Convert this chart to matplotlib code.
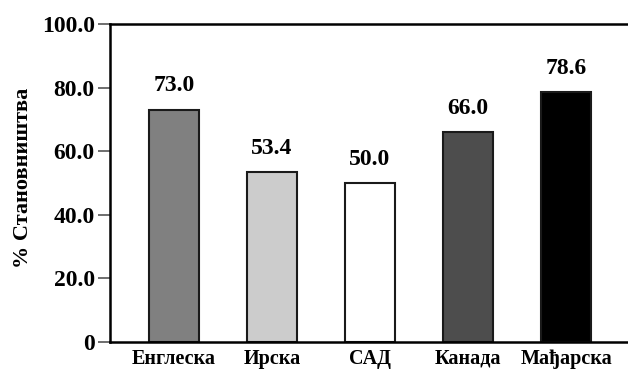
import matplotlib
matplotlib.use("Agg")
import matplotlib.pyplot as plt

countries = ["Енглеска", "Ирска", "САД", "Канада", "Мађарска"]
values = [73.0, 53.4, 50.0, 66.0, 78.6]
bar_colors = ["#808080", "#cccccc", "#ffffff", "#4d4d4d", "#000000"]
yticks = [0, 20, 40, 60, 80, 100]
ytick_labels = ["0", "20.0", "40.0", "60.0", "80.0", "100.0"]
ylabel = "% Становништва"

plt.rcParams["font.family"] = ["Liberation Serif", "DejaVu Serif"]
plt.rcParams["font.weight"] = "bold"

fig = plt.figure(figsize=(6.28, 3.74), dpi=100)
ax = fig.add_axes([0.1752, 0.0856, 0.8248, 0.8503])

x = list(range(len(countries)))
ax.bar(x, values, width=0.51, color=bar_colors, edgecolor="#1a1a1a", linewidth=1.5)

for xi, v in zip(x, values):
    ax.text(xi, v + 4.2, f"{v:.1f}", ha="center", va="bottom", fontsize=17, fontweight="bold")

ax.set_xlim(-0.65, 4.63)
ax.set_ylim(0, 100)
ax.set_yticks(yticks)
ax.set_yticklabels(ytick_labels, fontsize=17, fontweight="bold")
ax.set_xticks(x)
ax.set_xticklabels(countries, fontsize=14.5, fontweight="bold")
ax.tick_params(axis="x", length=0, pad=5)
ax.tick_params(axis="y", length=9, width=1.2, color="#555555", pad=2)

ax.set_ylabel(ylabel, fontsize=16, fontweight="bold")
ax.yaxis.set_label_coords(-0.149, 0.515)

for side in ["left", "bottom", "top"]:
    ax.spines[side].set_linewidth(1.8)
    ax.spines[side].set_color("black")
ax.spines["right"].set_visible(False)

fig.savefig("out.png", dpi=100)
